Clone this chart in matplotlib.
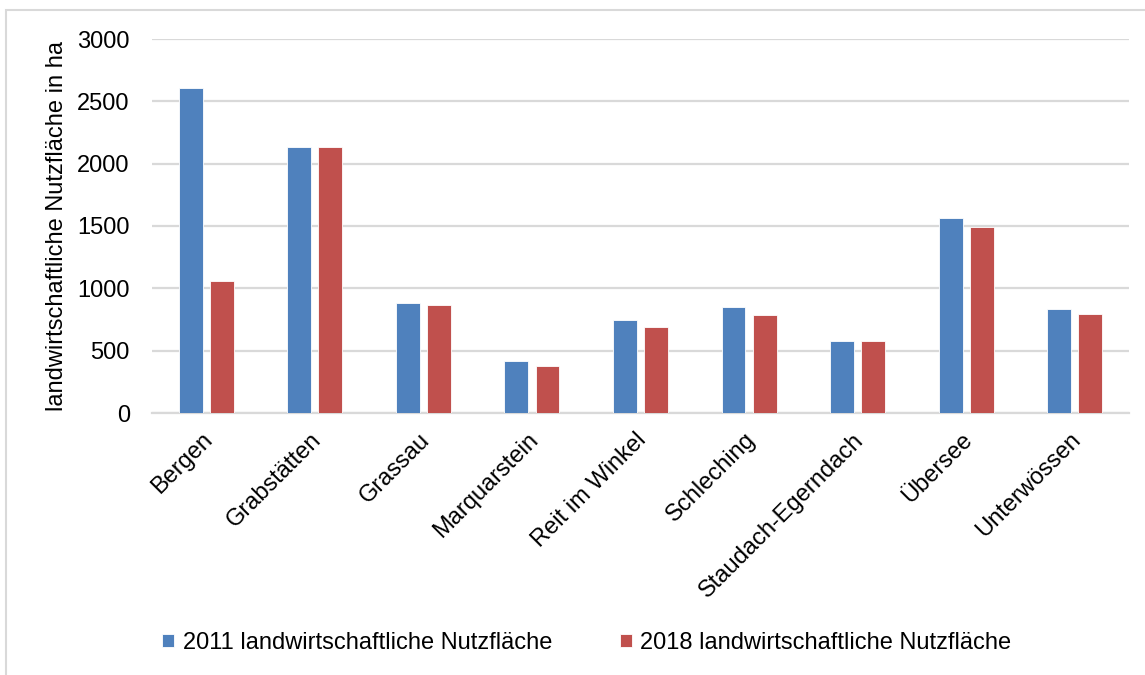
import matplotlib
matplotlib.use("Agg")
import matplotlib.pyplot as plt
import matplotlib.patches as mpatches
import matplotlib.transforms as mtransforms
import numpy as np

plt.rcParams['font.family'] = ['Liberation Sans', 'DejaVu Sans']

gemeinden = ["Bergen", "Grabstätten", "Grassau", "Marquarstein", "Reit im Winkel",
             "Schleching", "Staudach-Egerndach", "Übersee", "Unterwössen"]
flaeche_2011 = [2606, 2132, 884, 421, 750, 849, 578, 1567, 833]
flaeche_2018 = [1056, 2130, 863, 381, 686, 790, 578, 1492, 793]
label_2011 = "2011 landwirtschaftliche Nutzfläche"
label_2018 = "2018 landwirtschaftliche Nutzfläche"
y_ticks = [0, 500, 1000, 1500, 2000, 2500, 3000]

blue = "#4F81BD"
red = "#C0504D"
grid = "#D9D9D9"
fs = 17

W, H = 1145, 675
fig = plt.figure(figsize=(W / 100, H / 100), dpi=100)
ax = fig.add_axes([152 / W, 1 - 413 / H, (1129 - 152) / W, (413 - 39) / H])

# outer chart frame
fig.patches.append(mpatches.Rectangle((6 / W, -0.1), 1.2, 1 - 10 / H + 0.1,
                                      transform=fig.transFigure, fill=False,
                                      edgecolor="#D9D9D9", linewidth=1.5))

x = np.arange(len(gemeinden))
w = 0.22
off = 0.143
ax.bar(x - off, flaeche_2011, width=w, color=blue, edgecolor="white",
       linewidth=0.6, label=label_2011, zorder=3)
ax.bar(x + off, flaeche_2018, width=w, color=red, edgecolor="white",
       linewidth=0.6, label=label_2018, zorder=3)

ax.set_xlim(-0.5, len(gemeinden) - 0.5)
ax.set_ylim(0, 3000)
ax.set_yticks(y_ticks)
ax.set_yticklabels([str(t) for t in y_ticks])
ax.yaxis.grid(True, color=grid, linewidth=1.6, zorder=0)
ax.set_axisbelow(True)
for s in ["top", "right", "left"]:
    ax.spines[s].set_visible(False)
ax.spines["bottom"].set_color(grid)
ax.spines["bottom"].set_linewidth(1.6)
ax.tick_params(axis="y", length=0, pad=16, labelsize=fs)
ax.tick_params(axis="x", length=0, pad=17, labelsize=fs)

ax.set_xticks(x)
ax.set_xticklabels(gemeinden, rotation=45, ha="right", va="center",
                   rotation_mode="anchor")
shift = mtransforms.ScaledTranslation(2 / 72, 0, fig.dpi_scale_trans)
for lbl in ax.get_xticklabels():
    lbl.set_transform(lbl.get_transform() + shift)

ax.set_ylabel("landwirtschaftliche Nutzfläche in ha", fontsize=fs)
ax.yaxis.set_label_coords((68 - 152) / (1129 - 152), 0.5)

fig.legend(loc="center", bbox_to_anchor=(587 / W, 1 - 643 / H), ncol=2,
           frameon=False, fontsize=fs, handlelength=0.5, handleheight=0.5,
           handletextpad=0.35, columnspacing=2.9)

fig.savefig("out.png", dpi=100)
